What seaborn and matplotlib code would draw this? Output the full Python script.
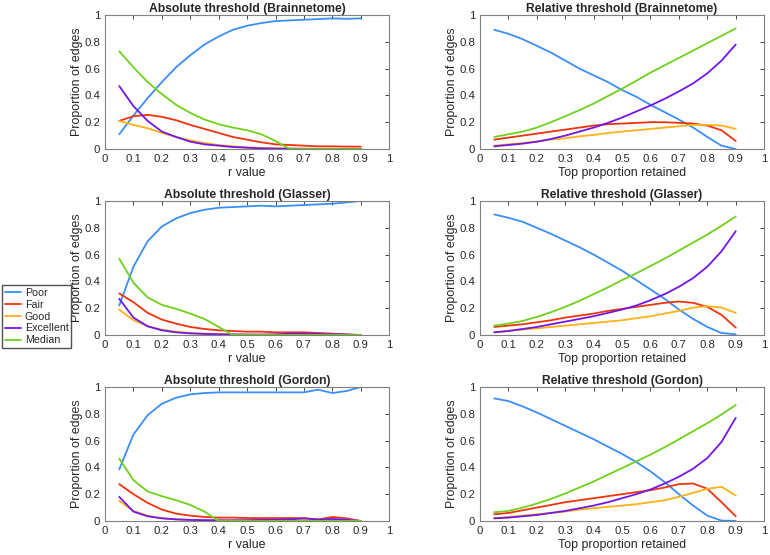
import pandas as pd
import numpy as np
import matplotlib
matplotlib.use('Agg')
import matplotlib.pyplot as plt
import seaborn as sns

# thresholds
r_vals = [0.05, 0.1, 0.15, 0.2, 0.25, 0.3, 0.35, 0.4, 0.45,
          0.5, 0.55, 0.6, 0.65, 0.7, 0.75, 0.8, 0.85, 0.9]
categories = ['Poor', 'Fair', 'Good', 'Excellent', 'Median']
colors = ['#3a8ef6', '#f0330c', '#fbb117', '#7316e8', '#6fd11b']

# absolute threshold, Brainnetome
abs_bn_poor = [0.11, 0.25, 0.38, 0.50, 0.61, 0.70, 0.78, 0.84, 0.89, 0.92, 0.94, 0.955, 0.96, 0.965, 0.97, 0.975, 0.972, 0.975]
abs_bn_fair = [0.21, 0.245, 0.255, 0.24, 0.215, 0.18, 0.15, 0.12, 0.09, 0.07, 0.05, 0.035, 0.03, 0.025, 0.02, 0.02, 0.018, 0.018]
abs_bn_good = [0.21, 0.18, 0.155, 0.12, 0.09, 0.065, 0.045, 0.03, 0.02, 0.012, 0.008, 0.005, 0.004, 0.003, 0.002, 0.002, 0.002, 0.002]
abs_bn_exc = [0.47, 0.32, 0.21, 0.13, 0.09, 0.055, 0.035, 0.025, 0.015, 0.01, 0.005, 0.003, 0.002, 0.002, 0.001, 0.001, 0.001, 0.001]
abs_bn_med = [0.73, 0.61, 0.50, 0.41, 0.33, 0.27, 0.22, 0.185, 0.16, 0.14, 0.11, 0.06, 0.0, 0.0, 0.0, 0.0, 0.0, 0.0]

# relative threshold, Brainnetome
rel_bn_poor = [0.89, 0.86, 0.82, 0.77, 0.72, 0.66, 0.60, 0.55, 0.50, 0.44, 0.39, 0.33, 0.275, 0.22, 0.16, 0.09, 0.025, 0.0]
rel_bn_fair = [0.07, 0.085, 0.10, 0.115, 0.13, 0.145, 0.16, 0.175, 0.185, 0.19, 0.195, 0.20, 0.20, 0.195, 0.19, 0.175, 0.14, 0.06]
rel_bn_good = [0.025, 0.035, 0.045, 0.055, 0.07, 0.08, 0.095, 0.105, 0.12, 0.13, 0.14, 0.15, 0.16, 0.17, 0.18, 0.18, 0.175, 0.15]
rel_bn_exc = [0.02, 0.03, 0.04, 0.055, 0.075, 0.10, 0.13, 0.16, 0.195, 0.235, 0.28, 0.325, 0.375, 0.43, 0.49, 0.565, 0.66, 0.78]
rel_bn_med = [0.09, 0.11, 0.13, 0.16, 0.20, 0.245, 0.29, 0.34, 0.395, 0.45, 0.51, 0.57, 0.625, 0.68, 0.735, 0.79, 0.845, 0.90]

# absolute threshold, Glasser
abs_gl_poor = [0.22, 0.51, 0.70, 0.81, 0.87, 0.91, 0.935, 0.95, 0.955, 0.96, 0.965, 0.96, 0.965, 0.97, 0.975, 0.98, 0.99, 1.0]
abs_gl_fair = [0.31, 0.245, 0.165, 0.115, 0.085, 0.06, 0.045, 0.035, 0.03, 0.025, 0.025, 0.02, 0.02, 0.02, 0.015, 0.01, 0.005, 0.0]
abs_gl_good = [0.19, 0.11, 0.065, 0.04, 0.025, 0.015, 0.01, 0.008, 0.005, 0.004, 0.003, 0.002, 0.002, 0.002, 0.001, 0.001, 0.001, 0.0]
abs_gl_exc = [0.27, 0.13, 0.065, 0.035, 0.02, 0.012, 0.008, 0.005, 0.004, 0.003, 0.003, 0.005, 0.01, 0.01, 0.008, 0.005, 0.003, 0.0]
abs_gl_med = [0.57, 0.39, 0.28, 0.225, 0.195, 0.16, 0.12, 0.06, 0.0, 0.0, 0.0, 0.0, 0.0, 0.0, 0.0, 0.0, 0.0, 0.0]

# relative threshold, Glasser
rel_gl_poor = [0.90, 0.875, 0.845, 0.80, 0.755, 0.705, 0.655, 0.60, 0.54, 0.48, 0.41, 0.34, 0.27, 0.19, 0.12, 0.06, 0.015, 0.005]
rel_gl_fair = [0.06, 0.07, 0.08, 0.095, 0.11, 0.13, 0.145, 0.16, 0.18, 0.195, 0.21, 0.225, 0.24, 0.25, 0.24, 0.21, 0.15, 0.055]
rel_gl_good = [0.02, 0.03, 0.04, 0.05, 0.06, 0.07, 0.08, 0.09, 0.10, 0.11, 0.125, 0.14, 0.16, 0.18, 0.205, 0.215, 0.205, 0.165]
rel_gl_exc = [0.02, 0.03, 0.045, 0.06, 0.08, 0.10, 0.12, 0.14, 0.165, 0.19, 0.22, 0.26, 0.305, 0.36, 0.425, 0.51, 0.625, 0.775]
rel_gl_med = [0.07, 0.085, 0.105, 0.135, 0.17, 0.21, 0.255, 0.305, 0.355, 0.41, 0.46, 0.515, 0.57, 0.63, 0.69, 0.75, 0.815, 0.885]

# absolute threshold, Gordon
abs_go_poor = [0.385, 0.645, 0.79, 0.875, 0.92, 0.945, 0.955, 0.96, 0.96, 0.96, 0.96, 0.96, 0.96, 0.96, 0.98, 0.955, 0.97, 1.0]
abs_go_fair = [0.275, 0.2, 0.135, 0.085, 0.055, 0.04, 0.03, 0.025, 0.025, 0.022, 0.022, 0.022, 0.022, 0.02, 0.012, 0.03, 0.02, 0.0]
abs_go_good = [0.15, 0.075, 0.04, 0.02, 0.012, 0.008, 0.005, 0.005, 0.005, 0.005, 0.005, 0.006, 0.008, 0.015, 0.01, 0.01, 0.01, 0.0]
abs_go_exc = [0.18, 0.07, 0.035, 0.02, 0.012, 0.008, 0.006, 0.005, 0.005, 0.006, 0.008, 0.01, 0.012, 0.02, 0.01, 0.015, 0.01, 0.0]
abs_go_med = [0.465, 0.305, 0.22, 0.185, 0.155, 0.12, 0.07, 0.0, 0.0, 0.0, 0.0, 0.0, 0.0, 0.0, 0.0, 0.0, 0.0, 0.0]

# relative threshold, Gordon
rel_go_poor = [0.915, 0.895, 0.855, 0.81, 0.76, 0.71, 0.66, 0.61, 0.555, 0.50, 0.44, 0.37, 0.29, 0.20, 0.115, 0.04, 0.003, 0.0]
rel_go_fair = [0.05, 0.06, 0.08, 0.10, 0.12, 0.14, 0.155, 0.17, 0.185, 0.20, 0.215, 0.23, 0.25, 0.275, 0.28, 0.24, 0.14, 0.035]
rel_go_good = [0.02, 0.03, 0.04, 0.05, 0.06, 0.07, 0.085, 0.095, 0.105, 0.115, 0.125, 0.14, 0.155, 0.18, 0.21, 0.24, 0.255, 0.19]
rel_go_exc = [0.02, 0.025, 0.035, 0.045, 0.06, 0.075, 0.095, 0.115, 0.14, 0.17, 0.20, 0.235, 0.28, 0.33, 0.39, 0.47, 0.59, 0.77]
rel_go_med = [0.065, 0.075, 0.10, 0.13, 0.165, 0.205, 0.25, 0.295, 0.345, 0.395, 0.445, 0.495, 0.55, 0.61, 0.67, 0.73, 0.795, 0.865]

panels = [
    ('Absolute threshold (Brainnetome)', 'r value', [abs_bn_poor, abs_bn_fair, abs_bn_good, abs_bn_exc, abs_bn_med]),
    ('Relative threshold (Brainnetome)', 'Top proportion retained', [rel_bn_poor, rel_bn_fair, rel_bn_good, rel_bn_exc, rel_bn_med]),
    ('Absolute threshold (Glasser)', 'r value', [abs_gl_poor, abs_gl_fair, abs_gl_good, abs_gl_exc, abs_gl_med]),
    ('Relative threshold (Glasser)', 'Top proportion retained', [rel_gl_poor, rel_gl_fair, rel_gl_good, rel_gl_exc, rel_gl_med]),
    ('Absolute threshold (Gordon)', 'r value', [abs_go_poor, abs_go_fair, abs_go_good, abs_go_exc, abs_go_med]),
    ('Relative threshold (Gordon)', 'Top proportion retained', [rel_go_poor, rel_go_fair, rel_go_good, rel_go_exc, rel_go_med]),
]

sns.set_style('white')
plt.rcParams['font.family'] = ['Liberation Sans', 'DejaVu Sans']
plt.rcParams['xtick.direction'] = 'in'
plt.rcParams['ytick.direction'] = 'in'

fig = plt.figure(figsize=(7.7, 5.55), dpi=100)

lefts = [0.1364, 0.6234]
bottoms = [0.7315, 0.3964, 0.0613]
w, h = 0.369, 0.2414

palette = dict(zip(categories, colors))

for i, (title, xlab, series) in enumerate(panels):
    ax = fig.add_axes([lefts[i % 2], bottoms[i // 2], w, h])
    rows = []
    for cat, vals in zip(categories, series):
        for x, v in zip(r_vals, vals):
            rows.append({'x': x, 'y': v, 'cat': cat})
    df = pd.DataFrame(rows)
    sns.lineplot(data=df, x='x', y='y', hue='cat', palette=palette,
                 hue_order=categories, linewidth=1.3, ax=ax, legend=False)
    ax.set_xlim(0, 1)
    ax.set_ylim(0, 1)
    ax.set_xticks(np.arange(0, 1.01, 0.1))
    ax.set_xticklabels(['0', '0.1', '0.2', '0.3', '0.4', '0.5', '0.6', '0.7', '0.8', '0.9', '1'])
    ax.set_yticks(np.arange(0, 1.01, 0.2))
    ax.set_yticklabels(['0', '0.2', '0.4', '0.6', '0.8', '1'])
    ax.tick_params(labelsize=8.2, colors='#262626', length=3, width=0.6,
                   top=True, right=True, pad=3.5)
    for s in ax.spines.values():
        s.set_visible(True)
        s.set_color('#808080')
        s.set_linewidth(0.8)
    ax.set_title(title, fontsize=8.7, fontweight='bold', pad=2)
    ax.set_xlabel(xlab, fontsize=8.9, labelpad=2, color='#262626')
    ax.set_ylabel('Proportion of edges', fontsize=8.9, labelpad=1, color='#262626')

handles = [plt.Line2D([], [], color=c, linewidth=1.3) for c in colors]
fig.legend(handles, categories, loc='upper left', bbox_to_anchor=(0.003, 0.4865),
           frameon=True, fancybox=False, edgecolor='#262626', fontsize=7.7,
           handlelength=1.5, handletextpad=0.35, labelspacing=0.18,
           borderpad=0.25, borderaxespad=0)

fig.savefig('out.png', dpi=100)
